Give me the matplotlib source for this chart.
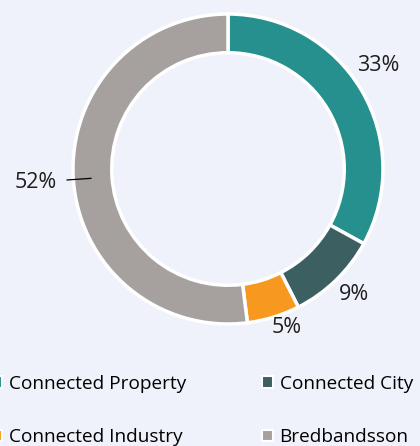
import matplotlib
matplotlib.use('Agg')
import matplotlib.pyplot as plt
from matplotlib.patches import Patch
import numpy as np

labels = ['Connected Property', 'Connected City', 'Connected Industry', 'Bredbandsson']
shares = [33, 9.5, 5.5, 52]
shown = ['33%', '9%', '5%', '52%']
colors = ['#26908f', '#3c5f62', '#f7991f', '#a6a19f']
bg = '#eff2fa'

plt.rcParams['font.family'] = ['Open Sans', 'DejaVu Sans']

fig = plt.figure(figsize=(4.2, 4.46), dpi=100, facecolor=bg)
ax = fig.add_axes([0, 0, 1, 1])
ax.set_facecolor(bg)

wedges, _ = ax.pie(shares, colors=colors, startangle=90, counterclock=False,
                   radius=1.0,
                   wedgeprops=dict(width=0.25, edgecolor='white', linewidth=2.5))

# label radius and small angle nudge (deg) per slice
dist = [1.18, 1.15, 1.09, 1.24]
nudge = [3.9, 1.1, 3.3, 0.3]
for w, d, n, t in zip(wedges, dist, nudge, shown):
    ang = np.deg2rad((w.theta1 + w.theta2) / 2 + n)
    x, y = np.cos(ang), np.sin(ang)
    ax.text(d * x, d * y, t, ha='center', va='center', fontsize=15.5,
            color='#1e1e1e')
    if t == '52%':
        ax.plot([0.886 * x, 1.04 * x], [0.886 * y, 1.04 * y], color='black', lw=0.9)

# scale: radius 1 -> 155 px, centre at (228, 169) from top-left
ax.set_xlim(-228 / 155, (420 - 228) / 155)
ax.set_ylim(-(446 - 169) / 155, 169 / 155)
ax.set_aspect('equal')
ax.axis('off')

# legend fills column by column, so reorder to read row by row
order = [0, 2, 1, 3]
handles = [Patch(facecolor=colors[i], edgecolor='white', linewidth=1.5) for i in order]
fig.legend(handles, [labels[i] for i in order], ncol=2, loc='upper left',
           bbox_to_anchor=(-0.06, 0.198), frameon=False, fontsize=13.7,
           handlelength=0.55, handleheight=0.55, handletextpad=0.35,
           columnspacing=4.0, labelspacing=1.85)

fig.savefig('out.png', dpi=100, facecolor=bg)
